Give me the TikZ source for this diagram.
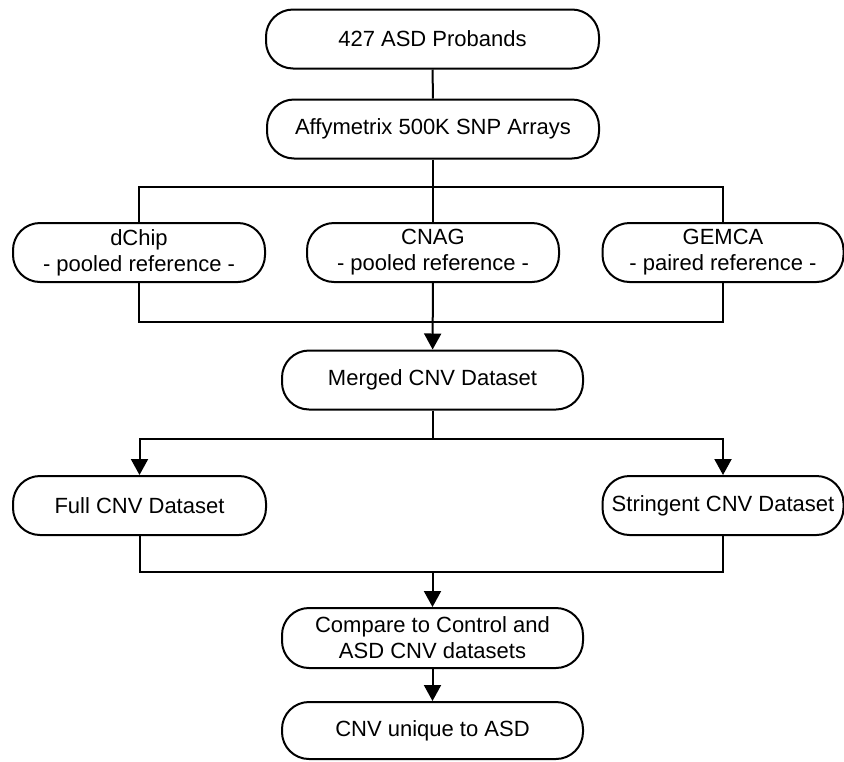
\documentclass[tikz,border=0pt]{standalone}
\usepackage{fontspec}
\setmainfont{Liberation Sans}
\usetikzlibrary{arrows.meta}
\begin{document}
\begin{tikzpicture}[x=1pt,y=-1pt,
  box/.style={draw, line width=2pt, rounded corners=27pt, minimum height=59pt,
    inner sep=1pt, align=center, font=\fontsize{22}{26}\selectfont},
  wire/.style={line width=2pt, line join=miter},
  arr/.style={wire, -{Triangle[width=17pt,length=16pt]}}]
\useasboundingbox[fill=white] (0,0) rectangle (844,761);

\node[box, minimum width=333pt] (p1) at (432.5,39) {427 ASD Probands};
\node[box, minimum width=332pt] (p2) at (433,129) {Affymetrix 500K SNP Arrays};
\node[box, minimum width=252pt] (dchip) at (139,252.5) {dChip\\- pooled reference -};
\node[box, minimum width=252pt] (cnag) at (433,252.5) {CNAG\\- pooled reference -};
\node[box, minimum width=241pt] (gemca) at (723,252.5) {GEMCA\\- paired reference -};
\node[box, minimum width=301pt] (merged) at (432.5,380) {Merged CNV Dataset};
\node[box, minimum width=253pt] (full) at (139.5,505.5) {Full CNV Dataset};
\node[box, minimum width=241pt] (stringent) at (723,505.5) {Stringent CNV Dataset};
\node[box, minimum width=301pt, minimum height=60pt] (compare) at (432.5,638) {Compare to Control and\\ASD CNV datasets};
\node[box, minimum width=301pt, minimum height=57pt] (unique) at (432.5,730.5) {CNV unique to ASD};

\coordinate (m1) at (432.5,439);
\coordinate (c1) at (432.5,572);

\draw[wire] (p1) -- (p2);
\draw[wire] (p2) -- (cnag);
\draw[wire] (dchip.north) -- ++(0,-35) -| (gemca.north);
\draw[wire] (dchip.south) -- ++(0,39) -| (gemca.south);
\draw[arr] (cnag) -- (merged);
\draw[wire] (merged.south) -- (m1);
\draw[arr] (m1) -| (full.north);
\draw[arr] (m1) -| (stringent.north);
\draw[wire] (full.south) |- (c1) -| (stringent.south);
\draw[arr] (c1) -- (compare.north);
\draw[arr] (compare) -- (unique);
\end{tikzpicture}
\end{document}
